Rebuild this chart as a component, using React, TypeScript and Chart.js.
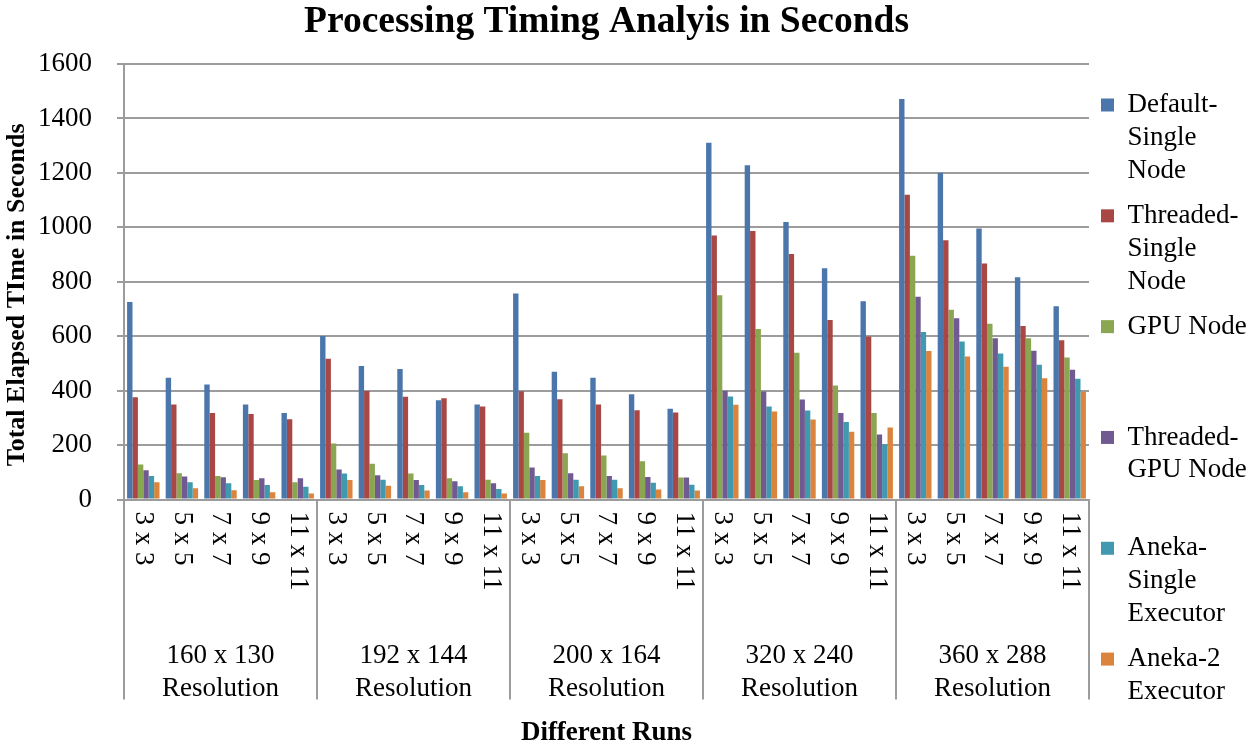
import { useEffect, useRef } from "react";
import { Chart, registerables } from "chart.js";

Chart.register(...registerables);

const SERIF = "'Liberation Serif', 'Times New Roman', serif";

const TITLE = "Processing Timing Analyis in Seconds";
const Y_TITLE = "Total Elapsed TIme in Seconds";
const X_TITLE = "Different Runs";

const RESOLUTIONS = ["160 x 130", "192 x 144", "200 x 164", "320 x 240", "360 x 288"];
const RESOLUTION_SUFFIX = "Resolution";
const RUNS = ["3 x 3", "5 x 5", "7 x 7", "9 x 9", "11 x 11"];

const Y_MIN = 0;
const Y_MAX = 1600;
const Y_STEP = 200;

const SERIES_NAMES = [
  "Default-Single Node",
  "Threaded-Single Node",
  "GPU Node",
  "Threaded-GPU Node",
  "Aneka-Single Executor",
  "Aneka-2 Executor",
];
const LEGEND_LINES = [
  ["Default-", "Single", "Node"],
  ["Threaded-", "Single", "Node"],
  ["GPU Node", "", ""],
  ["Threaded-", "GPU Node", ""],
  ["Aneka-", "Single", "Executor"],
  ["Aneka-2", "Executor"],
];
const COLORS = ["#4a76ab", "#a94744", "#8aa650", "#715a91", "#4099af", "#db843d"];

const DEFAULT_SINGLE = [726, 448, 423, 349, 318, 601, 491, 480, 365, 349, 757, 470, 448, 387, 334, 1311, 1228, 1020, 850, 729, 1471, 1201, 996, 817, 710];
const THREADED_SINGLE = [376, 349, 318, 314, 295, 517, 399, 378, 372, 342, 398, 369, 349, 328, 320, 970, 987, 902, 660, 599, 1120, 953, 867, 638, 585];
const GPU_NODE = [129, 97, 87, 72, 64, 206, 132, 96, 78, 73, 246, 170, 162, 141, 81, 751, 627, 539, 419, 318, 896, 697, 646, 593, 522];
const THREADED_GPU = [108, 85, 82, 78, 78, 111, 89, 72, 67, 60, 118, 97, 87, 83, 81, 400, 397, 368, 318, 239, 745, 666, 593, 547, 477];
const ANEKA_SINGLE = [87, 64, 60, 54, 47, 96, 73, 54, 49, 39, 87, 73, 73, 62, 55, 379, 342, 327, 285, 203, 616, 581, 537, 495, 444];
const ANEKA_2 = [64, 42, 34, 27, 22, 72, 51, 33, 27, 22, 72, 49, 42, 37, 33, 348, 324, 294, 249, 265, 546, 526, 488, 446, 396];

const SERIES = [DEFAULT_SINGLE, THREADED_SINGLE, GPU_NODE, THREADED_GPU, ANEKA_SINGLE, ANEKA_2];

const GRID = "#9c9c9c";

const axisLabelsPlugin = {
  id: "axisLabels",
  afterDraw(chart: any) {
    const { ctx } = chart;
    const x = chart.scales.x;
    const labels = chart.data.labels as string[];
    ctx.save();
    ctx.fillStyle = "#000";
    ctx.font = `27px ${SERIF}`;
    ctx.textBaseline = "middle";
    ctx.textAlign = "left";
    labels.forEach((lab, i) => {
      const px = x.getPixelForValue(i);
      ctx.save();
      ctx.translate(px, x.top + 12);
      ctx.rotate(Math.PI / 2);
      ctx.fillText(lab, 0, 0);
      ctx.restore();
    });
    ctx.textAlign = "center";
    const per = RUNS.length;
    RESOLUTIONS.forEach((r, g) => {
      const cx = (x.getPixelForValue(g * per) + x.getPixelForValue(g * per + per - 1)) / 2;
      ctx.fillText(r, cx, x.top + 156);
      ctx.fillText(RESOLUTION_SUFFIX, cx, x.top + 189);
    });
    ctx.restore();
  },
};

export default function App() {
  const canvasRef = useRef<HTMLCanvasElement | null>(null);

  useEffect(() => {
    document.body.style.margin = "0";
    const canvas = canvasRef.current;
    if (!canvas) return;
    Chart.defaults.color = "#000";
    const labels = RESOLUTIONS.flatMap(() => RUNS);
    const chart = new Chart(canvas, {
      type: "bar",
      data: {
        labels,
        datasets: SERIES.map((data, i) => ({
          label: SERIES_NAMES[i],
          data,
          backgroundColor: COLORS[i],
          borderWidth: 0,
          categoryPercentage: 0.84,
          barPercentage: 1.0,
        })),
      },
      options: {
        animation: false,
        responsive: true,
        maintainAspectRatio: false,
        layout: { padding: 0 },
        plugins: {
          tooltip: { enabled: false },
          title: {
            display: true,
            text: TITLE,
            fullSize: false,
            color: "#000",
            font: { family: SERIF, size: 37.5, weight: "bold", lineHeight: 1.2 },
            padding: { top: 0, bottom: 19 },
          },
          legend: {
            display: true,
            position: "right",
            align: "start",
            maxWidth: 161,
            title: {
              display: true,
              text: " ",
              font: { size: 10, lineHeight: 1.2 },
              padding: { top: 67.5, bottom: 0 },
            },
            labels: {
              color: "#000",
              font: { family: SERIF, size: 27, lineHeight: 1.22 },
              boxWidth: 13,
              boxHeight: 13,
              padding: 12,
              generateLabels: (chart: any) =>
                Chart.defaults.plugins.legend.labels
                  .generateLabels(chart)
                  .map((item: any, i: number) => ({ ...item, text: LEGEND_LINES[i] })),
            },
          },
        },
        scales: {
          x: {
            type: "category",
            offset: true,
            grid: {
              display: true,
              offset: true,
              drawOnChartArea: false,
              drawTicks: true,
              tickLength: 200,
              lineWidth: 2,
              color: (c: any) =>
                c.index === undefined || c.index % RUNS.length === 0 ? GRID : "rgba(0,0,0,0)",
            },
            border: { display: true, color: GRID, width: 2 },
            ticks: { display: false },
            title: {
              display: true,
              text: X_TITLE,
              color: "#000",
              font: { family: SERIF, size: 27, weight: "bold", lineHeight: 1.2 },
              padding: { top: 17, bottom: 0 },
            },
          },
          y: {
            min: Y_MIN,
            max: Y_MAX,
            ticks: {
              stepSize: Y_STEP,
              color: "#000",
              padding: 8,
              font: { family: SERIF, size: 27 },
              callback: (v: any) => String(v),
            },
            grid: {
              color: GRID,
              lineWidth: 2,
              drawTicks: true,
              tickLength: 24,
              tickBorderDash: [0, 17, 7, 100],
            },
            border: { display: true, color: GRID, width: 2 },
            title: {
              display: true,
              text: Y_TITLE + "    ",
              color: "#000",
              font: { family: SERIF, size: 26, weight: "bold", lineHeight: 1 },
              padding: { top: 4, bottom: 0 },
            },
          },
        },
      },
      plugins: [axisLabelsPlugin],
    } as any);
    return () => chart.destroy();
  }, []);

  return (
    <div style={{ position: "relative", width: "1250px", height: "749px", background: "#fff" }}>
      <canvas ref={canvasRef} />
    </div>
  );
}
